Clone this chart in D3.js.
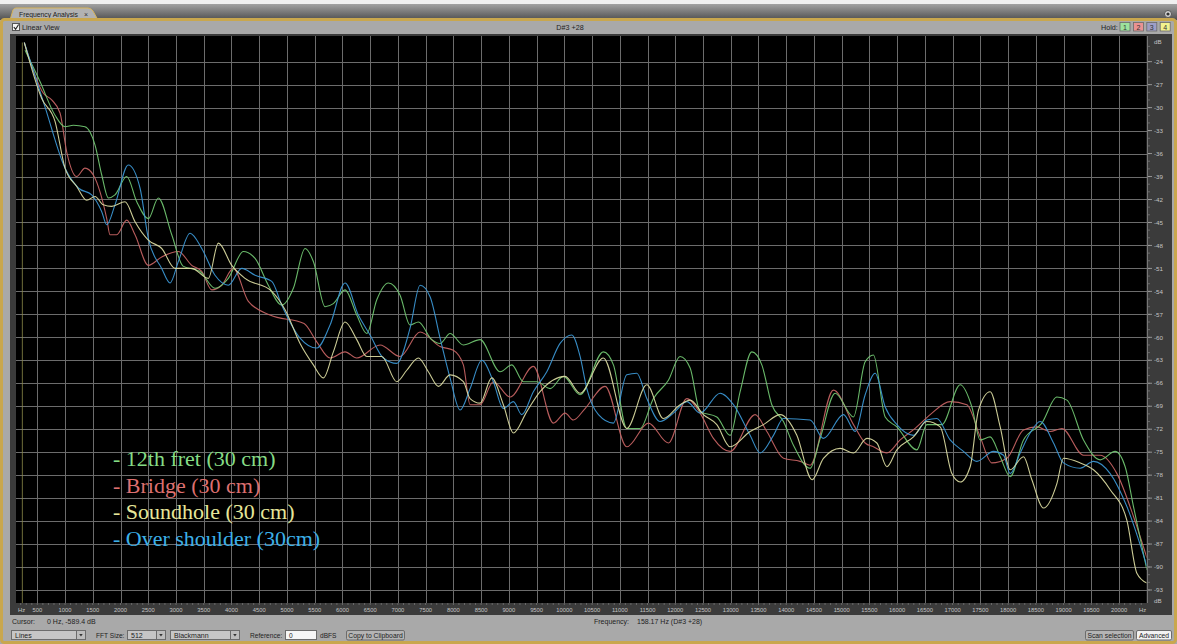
<!DOCTYPE html>
<meta charset="utf-8" />
<script src="https://d3js.org/d3.v7.min.js"></script>
<style>
  body { margin: 0; background: #a9a9a9; }
  text { font-family: "Liberation Sans", Arial, sans-serif; }
</style>
<div id="chart"></div>
<script>
  // [frequency Hz, level dB]; first point is the DC bin
  const fret12 = [[230,-589.4],[278,-22.5],[548,-26.6],[819,-31.0],[999,-32.5],[1149,-32.3],[1359,-32.5],[1540,-34.9],[1661,-38.8],[1780,-41.8],[1900,-41.4],[2111,-39.0],[2292,-42.3],[2501,-44.5],[2681,-41.8],[2923,-46.6],[3126,-50.7],[3433,-51.4],[3703,-53.6],[3943,-52.3],[4214,-48.8],[4425,-49.7],[4664,-53.2],[4906,-55.8],[5115,-53.6],[5326,-48.4],[5476,-50.1],[5687,-56.0],[5836,-55.6],[6047,-53.8],[6258,-57.1],[6439,-59.5],[6619,-55.1],[6828,-52.9],[7039,-54.5],[7219,-58.4],[7369,-58.0],[7610,-60.3],[7760,-60.8],[7940,-59.5],[8180,-61.0],[8481,-60.3],[8842,-64.5],[9053,-63.6],[9262,-65.8],[9504,-65.8],[9743,-66.7],[9983,-65.1],[10284,-67.5],[10704,-61.9],[10885,-63.6],[11126,-71.9],[11366,-71.9],[11606,-68.0],[11876,-65.6],[12087,-62.5],[12268,-64.0],[12448,-69.7],[12749,-70.4],[12989,-72.8],[13169,-67.1],[13380,-61.9],[13560,-63.6],[13740,-68.8],[13950,-71.0],[14130,-74.1],[14431,-77.1],[14612,-73.2],[14882,-67.3],[15212,-70.4],[15423,-63.2],[15572,-62.3],[15784,-70.4],[15994,-71.7],[16355,-74.7],[16535,-71.4],[16806,-71.4],[17136,-66.2],[17347,-69.1],[17496,-73.4],[17676,-73.0],[17857,-75.6],[18037,-78.2],[18277,-73.4],[18609,-71.2],[18879,-67.8],[19060,-68.2],[19359,-73.4],[19660,-76.0],[19930,-74.9],[20110,-76.9],[20260,-82.1],[20502,-90.4]];

  const bridge = [[230,-589.4],[265,-21.5],[608,-28.1],[759,-29.0],[909,-30.7],[1030,-35.8],[1210,-39.0],[1359,-37.9],[1509,-38.8],[1630,-41.0],[1751,-44.5],[1810,-46.6],[1931,-46.6],[2111,-44.7],[2261,-46.6],[2501,-50.6],[2742,-49.5],[3042,-48.8],[3283,-50.6],[3464,-51.4],[3644,-53.8],[3824,-53.2],[4033,-51.0],[4304,-55.3],[4695,-57.1],[5308,-58.2],[5537,-60.6],[5777,-62.7],[6047,-61.9],[6258,-62.7],[6678,-61.0],[7039,-62.5],[7400,-59.3],[7760,-61.2],[8000,-61.7],[8180,-63.6],[8301,-68.8],[8481,-68.8],[8721,-65.8],[9022,-67.8],[9442,-63.8],[9803,-71.2],[10014,-69.9],[10163,-70.8],[10374,-69.3],[10735,-66.4],[11126,-74.3],[11516,-71.2],[11876,-73.8],[12208,-68.0],[12448,-69.9],[12688,-73.2],[12989,-74.9],[13440,-70.1],[13651,-72.3],[13950,-75.8],[14251,-76.2],[14431,-76.7],[14851,-66.9],[15212,-71.4],[15423,-73.8],[15572,-74.3],[15814,-75.1],[16054,-73.4],[16324,-71.9],[16595,-70.1],[16955,-68.4],[17256,-68.8],[17496,-73.0],[17707,-76.4],[17978,-75.8],[18277,-72.1],[18519,-71.7],[18758,-72.3],[18969,-71.9],[19359,-75.4],[19660,-75.4],[19961,-77.8],[20260,-83.4],[20502,-88.8]];

  const soundhole = [[230,-589.4],[265,-21.5],[579,-28.8],[819,-31.8],[999,-37.9],[1210,-40.3],[1390,-42.1],[1540,-41.6],[1689,-42.7],[1841,-42.9],[2081,-42.3],[2261,-44.9],[2501,-47.3],[2742,-48.4],[2982,-51.0],[3283,-51.0],[3583,-52.3],[3763,-47.7],[4004,-50.6],[4244,-52.3],[4726,-54.0],[4966,-56.4],[5236,-60.8],[5476,-63.6],[5656,-65.3],[5836,-61.9],[6047,-58.0],[6258,-60.3],[6439,-62.5],[6709,-62.5],[6979,-65.8],[7160,-64.3],[7369,-62.7],[7549,-64.5],[7730,-66.4],[7940,-64.9],[8180,-65.8],[8301,-68.0],[8481,-68.6],[8692,-65.3],[8901,-68.8],[9082,-72.5],[9323,-69.7],[9563,-67.1],[10014,-65.1],[10284,-67.3],[10704,-62.7],[11126,-71.9],[11487,-66.2],[11786,-70.6],[12087,-68.8],[12268,-68.2],[12507,-70.1],[12749,-71.4],[12989,-74.3],[13349,-72.3],[13589,-71.4],[13891,-70.1],[14191,-72.8],[14467,-78.6],[14671,-75.8],[14972,-74.5],[15212,-75.1],[15454,-73.2],[15634,-73.8],[15814,-76.9],[15994,-74.7],[16294,-73.0],[16535,-71.0],[16775,-71.7],[16986,-77.8],[17136,-78.9],[17316,-76.9],[17466,-69.5],[17676,-67.1],[17857,-71.7],[18037,-77.3],[18277,-75.6],[18428,-78.6],[18638,-82.3],[18879,-79.1],[18998,-75.8],[19299,-76.4],[19539,-77.3],[19840,-79.9],[20141,-83.9],[20321,-90.8],[20502,-92.1]];

  const shoulder = [[230,-589.4],[265,-21.5],[638,-29.9],[999,-37.9],[1239,-40.5],[1480,-41.4],[1661,-43.6],[1751,-45.3],[1900,-42.7],[2140,-37.5],[2351,-40.5],[2501,-47.1],[2742,-51.0],[2892,-52.9],[3042,-50.1],[3253,-46.4],[3464,-48.4],[3703,-51.9],[3943,-53.2],[4185,-51.0],[4425,-51.9],[4726,-52.7],[4906,-55.8],[5236,-60.1],[5537,-61.4],[5777,-58.4],[6047,-52.9],[6287,-57.1],[6498,-59.7],[6738,-62.7],[6979,-63.4],[7219,-58.8],[7400,-53.2],[7580,-54.7],[7760,-60.1],[7940,-65.3],[8121,-69.5],[8301,-66.7],[8512,-63.0],[8721,-65.8],[8901,-69.3],[9082,-68.4],[9233,-70.1],[9442,-67.1],[9684,-64.5],[9923,-60.8],[10135,-59.7],[10284,-62.5],[10405,-66.7],[10615,-70.1],[10885,-71.2],[11126,-64.9],[11306,-64.7],[11487,-68.0],[11726,-71.0],[11966,-69.9],[12208,-68.4],[12448,-69.9],[12808,-67.3],[13049,-68.8],[13349,-72.8],[13530,-75.1],[13770,-72.8],[13950,-70.6],[14431,-70.8],[14671,-73.2],[15032,-70.1],[15243,-72.3],[15423,-67.5],[15603,-64.7],[15784,-69.1],[15994,-71.4],[16294,-72.8],[16535,-70.8],[16716,-70.6],[16955,-73.4],[17195,-74.9],[17436,-76.2],[17736,-74.9],[17917,-75.4],[18037,-77.8],[18217,-75.1],[18397,-72.5],[18578,-71.0],[18818,-73.8],[18998,-76.4],[19299,-77.1],[19539,-76.2],[19840,-77.8],[20141,-82.1],[20502,-89.9]];

  const seriesNames = ["12th fret (30 cm)", "Bridge (30 cm)", "Soundhole (30 cm)", "Over shoulder (30cm)"];
  const seriesData = [fret12, bridge, soundhole, shoulder];
  const lineColors = ["#72c872", "#c86464", "#dcdca2", "#3c98d6"];
  const legendColors = ["#86dc86", "#de7070", "#e6e69a", "#3cb0e8"];

  const dbTicks = [-24,-27,-30,-33,-36,-39,-42,-45,-48,-51,-54,-57,-60,-63,-66,-69,-72,-75,-78,-81,-84,-87,-90,-93];
  const hzTicks = [500,1000,1500,2000,2500,3000,3500,4000,4500,5000,5500,6000,6500,7000,7500,8000,8500,9000,9500,10000,
                   10500,11000,11500,12000,12500,13000,13500,14000,14500,15000,15500,16000,16500,17000,17500,18000,18500,19000,19500,20000];
  const holdLabels = ["1", "2", "3", "4"];
  const holdColors = ["#9de29d", "#ea9292", "#9e9ec6", "#f2f28e"];

  const width = 1177;
  const height = 644;
  const plot = { left: 16, right: 1146.5, top: 36, bottom: 603 };

  const x = d3.scaleLinear().domain([0, 20500]).range([9.6, 1146.8]);
  const y = d3.scaleLinear().domain([-21, -93]).range([38.7, 590]);

  const svg = d3.select("#chart").append("svg").attr("width", width).attr("height", height);

  // window chrome
  svg.append("rect").attr("width", width).attr("height", height).attr("fill", "#a9a9a9");
  const defs = svg.append("defs");
  const grad = defs.append("linearGradient").attr("id", "tabbar")
    .attr("x1", 0).attr("x2", 0).attr("y1", 0).attr("y2", 1);
  grad.append("stop").attr("offset", "0%").attr("stop-color", "#a2a2a2");
  grad.append("stop").attr("offset", "100%").attr("stop-color", "#505050");
  svg.append("rect").attr("width", width).attr("height", 4).attr("fill", "#f0f0f0");
  svg.append("rect").attr("y", 4).attr("width", width).attr("height", 16).attr("fill", "url(#tabbar)");

  svg.append("path")
    .attr("d", "M10,20 L13,10 Q14,8 16,8 L88,8 Q91,8 93,11 L98,20 Z")
    .attr("fill", "#b2b2b2")
    .attr("stroke", "#d8b458")
    .attr("stroke-width", 1);
  svg.append("text").attr("x", 19).attr("y", 17).attr("font-size", 6.8).attr("fill", "#1c1c1c").text("Frequency Analysis");
  svg.append("text").attr("x", 84).attr("y", 17).attr("font-size", 7).attr("fill", "#333").text("×");

  svg.append("rect")
    .attr("x", 1.5).attr("y", 19.5).attr("width", width - 3).attr("height", height - 21)
    .attr("rx", 3)
    .attr("fill", "none")
    .attr("stroke", "#c9a74e")
    .attr("stroke-width", 3);
  svg.append("circle").attr("cx", 1168).attr("cy", 14).attr("r", 3.5).attr("fill", "#d7d7d7").attr("stroke", "#555");
  svg.append("circle").attr("cx", 1168).attr("cy", 14).attr("r", 1.6).attr("fill", "#333");

  // header row
  svg.append("rect").attr("x", 12.5).attr("y", 23.5).attr("width", 7).attr("height", 7)
    .attr("fill", "#f4f4f4").attr("stroke", "#555");
  svg.append("path").attr("d", "M13.8,27 L15.6,29.2 L18.6,24.5").attr("fill", "none").attr("stroke", "#222").attr("stroke-width", 1.1);
  svg.append("text").attr("x", 22).attr("y", 30.2).attr("font-size", 7.2).attr("fill", "#1e1e1e").text("Linear View");
  svg.append("text").attr("x", 570).attr("y", 30).attr("font-size", 7.2).attr("text-anchor", "middle")
    .attr("fill", "#1e1e1e").text("D#3 +28");
  svg.append("text").attr("x", 1101).attr("y", 30).attr("font-size", 7.2).attr("fill", "#1e1e1e").text("Hold:");

  const hold = svg.append("g").selectAll("g").data(holdLabels).join("g")
    .attr("transform", (d, i) => "translate(" + (1120 + i * 13.4) + ",22.5)");
  hold.append("rect").attr("width", 10).attr("height", 8.5)
    .attr("fill", (d, i) => holdColors[i]).attr("stroke", "#6a6a6a").attr("stroke-width", 0.8);
  hold.append("text").attr("x", 5).attr("y", 7.2).attr("text-anchor", "middle").attr("font-size", 7)
    .attr("fill", "#333").text((d) => d);

  // plot background and axis strips
  svg.append("rect").attr("x", 10).attr("y", 34).attr("width", 1162).attr("height", 581).attr("fill", "#3b3b3b");
  svg.append("rect").attr("x", plot.left).attr("y", plot.top)
    .attr("width", plot.right - plot.left).attr("height", plot.bottom - plot.top).attr("fill", "#000");

  const grid = svg.append("g").attr("stroke", "#6c6c6c").attr("stroke-width", 1).attr("shape-rendering", "crispEdges");
  grid.selectAll(".vg").data(hzTicks).join("line")
    .attr("x1", (d) => Math.round(x(d)) + 0.5).attr("x2", (d) => Math.round(x(d)) + 0.5)
    .attr("y1", plot.top).attr("y2", plot.bottom);
  grid.selectAll(".hg").data(dbTicks).join("line")
    .attr("y1", (d) => Math.round(y(d)) + 0.5).attr("y2", (d) => Math.round(y(d)) + 0.5)
    .attr("x1", plot.left).attr("x2", plot.right);

  // right dB axis
  const ra = svg.append("g");
  ra.append("line").attr("x1", 1147.5).attr("x2", 1147.5).attr("y1", 36).attr("y2", 603).attr("stroke", "#777");
  ra.selectAll(".minor").data(d3.range(-22, -94, -1)).join("line")
    .attr("x1", 1148).attr("x2", 1150)
    .attr("y1", (d) => y(d)).attr("y2", (d) => y(d))
    .attr("stroke", "#8a8a8a").attr("stroke-width", 0.6);
  ra.selectAll(".major").data(dbTicks).join("line")
    .attr("x1", 1148).attr("x2", 1152)
    .attr("y1", (d) => y(d)).attr("y2", (d) => y(d))
    .attr("stroke", "#aaa").attr("stroke-width", 0.8);
  ra.selectAll("text").data(dbTicks).join("text")
    .attr("x", 1154).attr("y", (d) => y(d) + 2.2)
    .attr("font-size", 6.2).attr("fill", "#c4c4c4").text((d) => d);
  ra.append("text").attr("x", 1154).attr("y", 44).attr("font-size", 6.2).attr("fill", "#c4c4c4").text("dB");
  ra.append("text").attr("x", 1154).attr("y", 603).attr("font-size", 6.2).attr("fill", "#c4c4c4").text("dB");

  // bottom Hz axis
  const ba = svg.append("g");
  ba.selectAll(".minor").data(d3.range(200, 20500, 100)).join("line")
    .attr("x1", (d) => x(d)).attr("x2", (d) => x(d))
    .attr("y1", 603).attr("y2", 605)
    .attr("stroke", "#8a8a8a").attr("stroke-width", 0.6);
  ba.selectAll("text").data(hzTicks).join("text")
    .attr("x", (d) => x(d)).attr("y", 611.5).attr("text-anchor", "middle")
    .attr("font-size", 5.8).attr("fill", "#c4c4c4").text((d) => d);
  ba.append("text").attr("x", 18).attr("y", 611.5).attr("font-size", 5.8).attr("fill", "#c4c4c4").text("Hz");
  ba.append("text").attr("x", 1139).attr("y", 611.5).attr("font-size", 5.8).attr("fill", "#c4c4c4").text("Hz");

  // spectra
  defs.append("clipPath").attr("id", "plotclip").append("rect")
    .attr("x", plot.left).attr("y", plot.top)
    .attr("width", plot.right - plot.left).attr("height", plot.bottom - plot.top);

  const line = d3.line()
    .x((d) => x(d[0]))
    .y((d) => y(d[1]))
    .curve(d3.curveMonotoneX);

  const spectra = svg.append("g").attr("clip-path", "url(#plotclip)");

  // the rise out of the DC bin shows as a faint vertical stroke
  spectra.append("line")
    .attr("x1", x(soundhole[0][0])).attr("x2", x(soundhole[0][0]))
    .attr("y1", y(soundhole[1][1])).attr("y2", plot.bottom)
    .attr("stroke", "#8c8a48").attr("stroke-width", 1).attr("stroke-opacity", 0.8);

  const drawOrder = [1, 0, 3, 2];
  spectra.selectAll(".spec").data(drawOrder).join("path")
    .attr("class", "spec")
    .attr("d", (i) => line(seriesData[i].slice(1)))
    .attr("fill", "none")
    .attr("stroke", (i) => lineColors[i])
    .attr("stroke-width", 1.1)
    .attr("stroke-opacity", 0.92);

  // legend typed on the picture
  svg.append("g").selectAll("text").data(seriesNames).join("text")
    .attr("x", 113)
    .attr("y", (d, i) => 466 + i * 26.5)
    .style("font-family", '"Liberation Serif", "Times New Roman", serif')
    .attr("font-size", 22)
    .attr("fill", (d, i) => legendColors[i])
    .text((d) => "- " + d);

  // status row
  const st = svg.append("g").attr("font-size", 7).attr("fill", "#1e1e1e");
  st.append("text").attr("x", 12).attr("y", 624).text("Cursor:");
  st.append("text").attr("x", 47).attr("y", 624).text("0 Hz, -589.4 dB");
  st.append("text").attr("x", 594).attr("y", 624).text("Frequency:");
  st.append("text").attr("x", 637).attr("y", 624).text("158.17 Hz (D#3 +28)");

  // controls row
  function dropdown(x0, w, label) {
    const g = svg.append("g");
    g.append("rect").attr("x", x0 + 0.5).attr("y", 630.5).attr("width", w).attr("height", 9)
      .attr("fill", "#c6c6c6").attr("stroke", "#6c6c6c");
    g.append("rect").attr("x", x0 + w - 8.5).attr("y", 630.5).attr("width", 9).attr("height", 9)
      .attr("fill", "#bdbdbd").attr("stroke", "#6c6c6c");
    g.append("path").attr("d", "M" + (x0 + w - 5.8) + ",634 l3.5,0 l-1.75,2.5 z").attr("fill", "#333");
    g.append("text").attr("x", x0 + 4).attr("y", 637.6).attr("font-size", 7).attr("fill", "#1e1e1e").text(label);
  }
  function button(x0, w, label, fill) {
    svg.append("rect").attr("x", x0 + 0.5).attr("y", 630.5).attr("width", w).attr("height", 9.5)
      .attr("rx", 1.5).attr("fill", fill).attr("stroke", "#6c6c6c");
    svg.append("text").attr("x", x0 + w / 2 + 0.5).attr("y", 638).attr("text-anchor", "middle")
      .attr("font-size", 6.8).attr("fill", "#1e1e1e").text(label);
  }
  function label(x0, s) {
    svg.append("text").attr("x", x0).attr("y", 637.6).attr("font-size", 6.6).attr("fill", "#1e1e1e").text(s);
  }
  dropdown(11, 74, "Lines");
  label(96, "FFT Size:");
  dropdown(127, 38, "512");
  dropdown(170, 69, "Blackmann");
  label(250, "Reference:");
  svg.append("rect").attr("x", 285.5).attr("y", 630.5).attr("width", 31).attr("height", 9)
    .attr("fill", "#f6f6f6").attr("stroke", "#6c6c6c");
  label(289, "0");
  label(320, "dBFS");
  button(346, 58, "Copy to Clipboard", "#b4b4b4");
  button(1085, 48, "Scan selection", "#b4b4b4");
  button(1136, 35, "Advanced", "#f2f2f2");
</script>
